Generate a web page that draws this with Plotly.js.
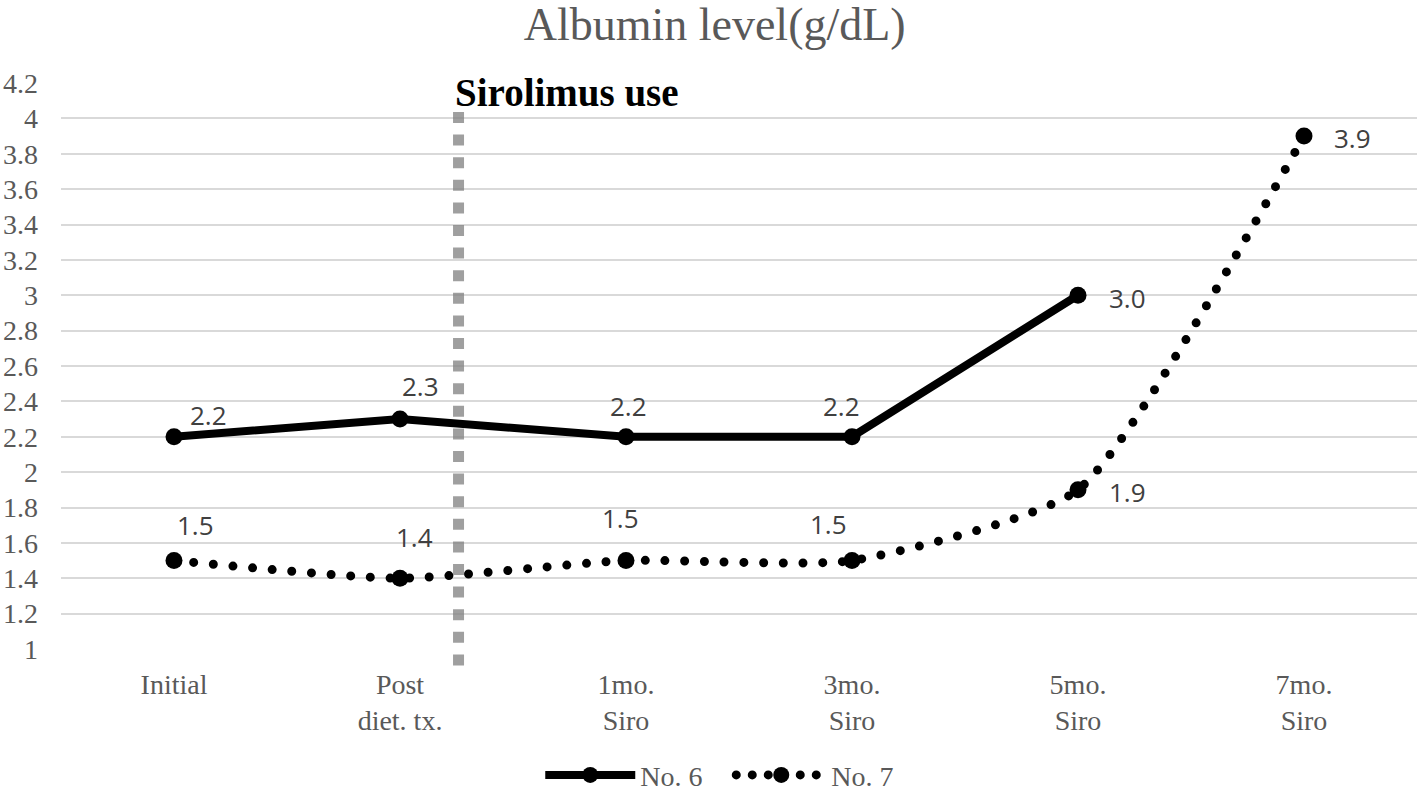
<!DOCTYPE html>
<html><head><meta charset="utf-8">
<script src="https://cdn.plot.ly/plotly-3.0.1.min.js"></script>
<style>html,body{margin:0;padding:0;background:#fff}#chart{width:1418px;height:791px}</style>
</head><body><div id="chart"></div>
<script>
const categories = ['Initial', 'Post<br>diet. tx.', '1mo.<br>Siro', '3mo.<br>Siro', '5mo.<br>Siro', '7mo.<br>Siro'];
const seriesNames = ['No. 6', 'No. 7'];
const no6Values = [2.2, 2.3, 2.2, 2.2, 3.0, null];
const no7Values = [1.5, 1.4, 1.5, 1.5, 1.9, 3.9];
const yTickVals = [1, 1.2, 1.4, 1.6, 1.8, 2, 2.2, 2.4, 2.6, 2.8, 3, 3.2, 3.4, 3.6, 3.8, 4, 4.2];
const yTickText = ['1', '1.2', '1.4', '1.6', '1.8', '2', '2.2', '2.4', '2.6', '2.8', '3', '3.2', '3.4', '3.6', '3.8', '4', '4.2'];
const eventLabel = 'Sirolimus use';
const eventIndex = 1.259;   // between "Post diet. tx." and "1mo. Siro"

// label placement (pixel offsets of label centre from the point)
const no6LabelOffsets = [[34, -22], [20, -33], [2, -31], [-11, -31], [49, 3], null];
const no7LabelOffsets = [[21, -36], [14, -41], [-6, -43], [-24, -37], [49, 2], [48, 2]];

const xIdx = categories.map((c, i) => i);
const serif = 'Liberation Serif, Times New Roman, serif';
const sans = 'Open Sans, Noto Sans, sans-serif';

const data = [
  {
    x: xIdx, y: no6Values, name: seriesNames[0], type: 'scatter', mode: 'lines+markers',
    line: {color: '#000', width: 8},
    marker: {color: '#000', size: 17},
    connectgaps: false, hoverinfo: 'skip'
  },
  {
    x: xIdx, y: no7Values, name: seriesNames[1], type: 'scatter', mode: 'lines+markers',
    line: {color: '#000', width: 9, dash: '9px,10.7px', shape: 'spline', smoothing: 0.55},
    marker: {color: '#000', size: 17},
    hoverinfo: 'skip'
  }
];

const annotations = [];
function addLabels(values, offsets) {
  values.forEach((v, i) => {
    if (v === null || !offsets[i]) return;
    annotations.push({
      x: i, y: v, xref: 'x', yref: 'y', text: v.toFixed(1), showarrow: false,
      xanchor: 'center', yanchor: 'middle',
      xshift: offsets[i][0], yshift: -offsets[i][1],
      font: {family: sans, size: 26, color: '#404040'}
    });
  });
}
addLabels(no6Values, no6LabelOffsets);
addLabels(no7Values, no7LabelOffsets);
annotations.push({
  x: eventIndex, y: 4.149, xref: 'x', yref: 'y', text: '<b>' + eventLabel + '</b>', showarrow: false,
  xanchor: 'left', yanchor: 'middle', xshift: -6,
  font: {family: serif, size: 39, color: '#000'}
});

const layout = {
  width: 1418, height: 791,
  paper_bgcolor: '#fff', plot_bgcolor: '#fff',
  margin: {l: 61, r: 1, t: 83, b: 142},
  title: {
    text: 'Albumin level(g/dL)', xref: 'container', x: 0.504, xanchor: 'center',
    yref: 'container', y: 0.970, yanchor: 'middle',
    font: {family: serif, size: 46, color: '#595959'}
  },
  xaxis: {
    type: 'linear', range: [-0.5, 5.5], tickvals: xIdx, ticktext: categories,
    showgrid: false, zeroline: false, showline: false, ticks: '',
    ticklabelstandoff: 16,
    tickfont: {family: serif, size: 28, color: '#595959'}
  },
  yaxis: {
    range: [1, 4.2], tickvals: yTickVals, ticktext: yTickText,
    showgrid: true, gridcolor: '#d9d9d9', gridwidth: 2,
    zeroline: false, showline: false, ticks: '',
    ticklabelstandoff: 22,
    tickfont: {family: serif, size: 28, color: '#595959'}
  },
  shapes: [{
    type: 'line', xref: 'x', yref: 'paper', x0: eventIndex, x1: eventIndex, y0: 0.9488, y1: -0.0371,
    line: {color: '#808080', width: 11, dash: '11px,11.6px'}, opacity: 0.75, layer: 'above'
  }],
  annotations: annotations,
  showlegend: true,
  legend: {
    orientation: 'h', xref: 'container', x: 0.381, xanchor: 'left',
    yref: 'container', y: 0.02, yanchor: 'middle',
    itemwidth: 90, entrywidth: 86,
    font: {family: serif, size: 28, color: '#595959'},
    bgcolor: 'rgba(0,0,0,0)'
  }
};

Plotly.newPlot('chart', data, layout, {staticPlot: true, displayModeBar: false}).then(gd => {
  const traces = gd.querySelectorAll('.scatterlayer .trace');
  if (traces[1]) {
    const p = traces[1].querySelector('path.js-line');
    if (p) { p.style.strokeLinecap = 'round'; p.style.strokeDasharray = '0px,19.7px'; }
  }
  const legendItems = gd.querySelectorAll('.legend .traces');
  if (legendItems[1]) {
    const lp = legendItems[1].querySelector('path.js-line');
    if (lp) { lp.style.strokeLinecap = 'round'; lp.style.strokeDasharray = '0px,16px'; }
  }
});
</script>
</body></html>
